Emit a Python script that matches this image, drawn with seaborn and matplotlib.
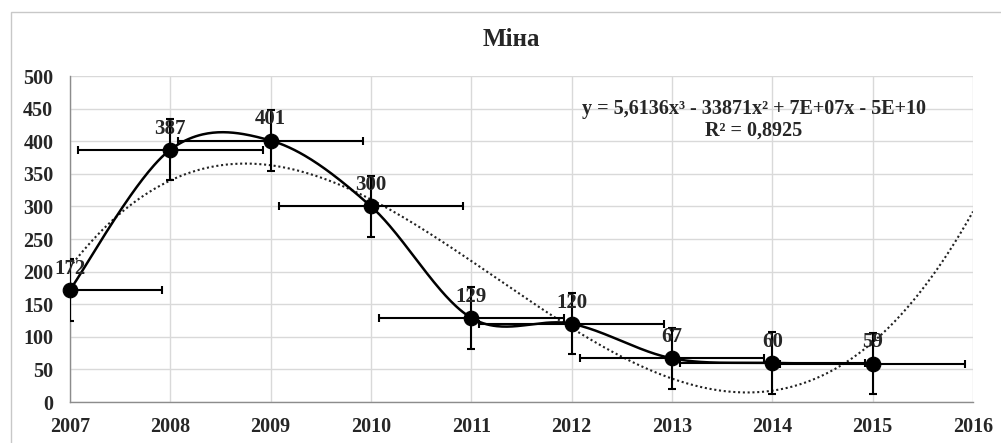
import numpy as np
import pandas as pd
import matplotlib
matplotlib.use("Agg")
import matplotlib.pyplot as plt
from matplotlib.patches import Rectangle
import seaborn as sns

# дані
years = [2007, 2008, 2009, 2010, 2011, 2012, 2013, 2014, 2015]
values = [172, 387, 401, 300, 129, 120, 67, 60, 59]
x_err = 0.92
y_err = 47
x_ticks = list(range(2007, 2017))
y_ticks = list(range(0, 501, 50))
title = "Міна"
eq_text = "y = 5,6136x³ - 33871x² + 7E+07x - 5E+10\nR² = 0,8925"

sns.set_style("whitegrid")
plt.rcParams["font.family"] = ["Liberation Serif", "DejaVu Serif"]
plt.rcParams["font.weight"] = "bold"


def excel_smooth(xs, ys, n=60):
    # згладжена лінія як у Excel (Безьє з контрольними точками 1/6)
    p = np.column_stack([xs, ys]).astype(float)
    ext = np.vstack([p[0], p, p[-1]])
    out = []
    t = np.linspace(0, 1, n)[:, None]
    for i in range(len(p) - 1):
        p0, p1 = ext[i + 1], ext[i + 2]
        c1 = p0 + (ext[i + 2] - ext[i]) / 6
        c2 = p1 - (ext[i + 3] - ext[i + 1]) / 6
        seg = ((1 - t) ** 3) * p0 + 3 * ((1 - t) ** 2) * t * c1 + 3 * (1 - t) * t ** 2 * c2 + t ** 3 * p1
        out.append(seg)
    out = np.vstack(out)
    return out[:, 0], out[:, 1]


sx, sy = excel_smooth(years, values)
smooth_df = pd.DataFrame({"x": sx, "y": sy})

# поліноміальний тренд 3-го степеня
xa = np.array(years, dtype=float)
coef = np.polyfit(xa - 2011, values, 3)
tx = np.linspace(2007, 2016, 300)
trend_df = pd.DataFrame({"x": tx, "y": np.polyval(coef, tx - 2011)})

fig = plt.figure(figsize=(10.01, 4.43), dpi=100)
ax = fig.add_axes([70 / 1001, 1 - 402 / 443, (973 - 70) / 1001, (402 - 76) / 443])

sns.lineplot(data=trend_df, x="x", y="y", ax=ax, color="#222222", lw=1.5,
             linestyle=(0, (1, 1.3)), sort=False, zorder=2)
sns.lineplot(data=smooth_df, x="x", y="y", ax=ax, color="black", lw=1.8,
             sort=False, zorder=3)
ax.errorbar(years, values, xerr=x_err, yerr=y_err, fmt="none", ecolor="black",
            elinewidth=1.5, capsize=3, capthick=1.5, zorder=4, clip_on=True)
sns.scatterplot(x=years, y=values, ax=ax, color="black", s=110, edgecolor="black",
                zorder=5, clip_on=False)

for xv, yv in zip(years, values):
    ax.annotate(str(yv), (xv, yv), xytext=(0, 8), textcoords="offset points",
                ha="center", va="bottom", fontsize=15, fontweight="bold", zorder=6)

ax.set_xlim(2007, 2016)
ax.set_ylim(0, 500)
ax.set_xticks(x_ticks)
ax.set_yticks(y_ticks)
ax.set_xticklabels([str(v) for v in x_ticks], fontsize=14.5, fontweight="bold")
ax.set_yticklabels([str(v) for v in y_ticks], fontsize=14.5, fontweight="bold")
ax.tick_params(axis="x", pad=11, length=0)
ax.tick_params(axis="y", pad=12, length=0)
ax.set_xlabel("")
ax.set_ylabel("")
ax.grid(True, color="#d9d9d9", lw=1.0)
for side in ["top", "right"]:
    ax.spines[side].set_visible(False)
for side in ["left", "bottom"]:
    ax.spines[side].set_color("#8c8c8c")
    ax.spines[side].set_linewidth(1.0)

ax.text(0.757, 0.93, eq_text, transform=ax.transAxes, ha="center", va="top",
        fontsize=14.5, fontweight="bold", linespacing=1.1)

fig.text(0.511, 1 - 40 / 443, title, ha="center", va="center", fontsize=18, fontweight="bold")

fig.patches.append(Rectangle((11 / 1001, -0.05), 1.0, 1 - 12 / 443 + 0.05,
                             transform=fig.transFigure, fill=False,
                             edgecolor="#c8c8c8", lw=1.0))

fig.savefig("out.png", dpi=100)
